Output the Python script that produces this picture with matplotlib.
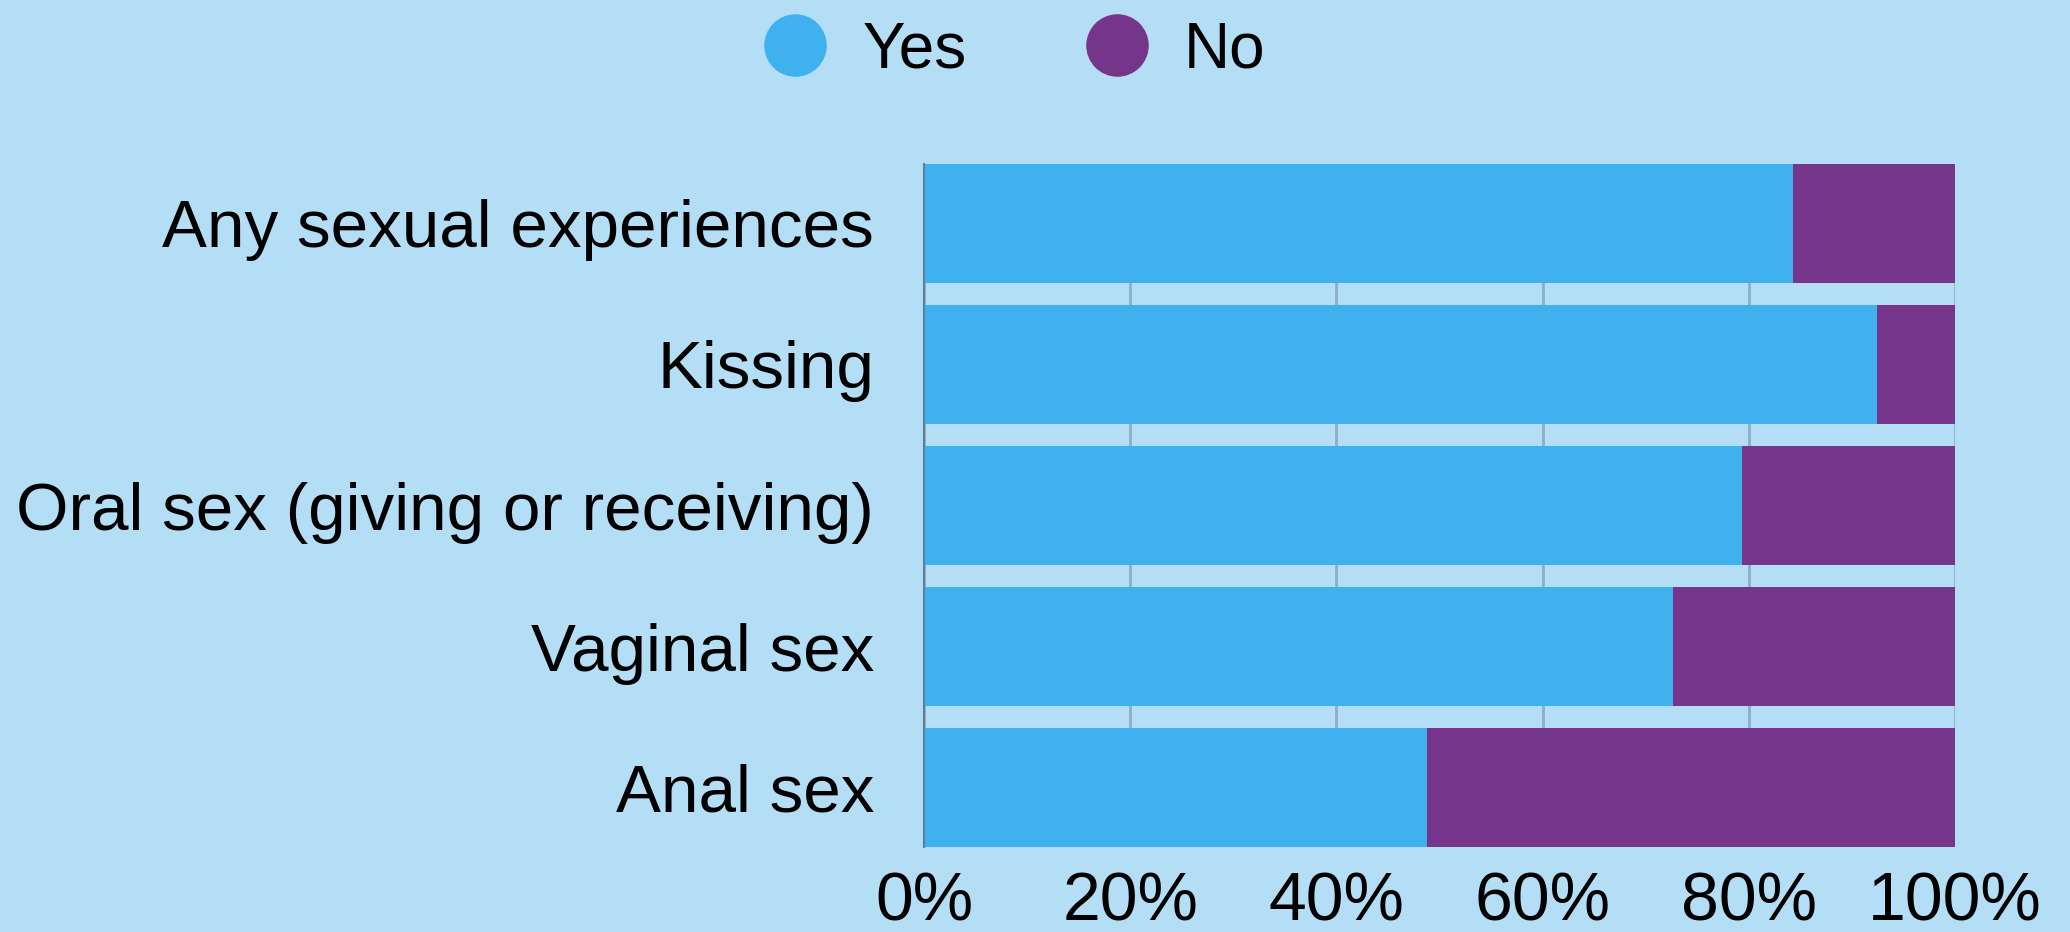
import matplotlib.pyplot as plt
from matplotlib.lines import Line2D
import numpy as np

categories = ['Any sexual experiences', 'Kissing', 'Oral sex (giving or receiving)',
              'Vaginal sex', 'Anal sex']
yes_pct = [84.3, 92.4, 79.3, 72.6, 48.8]
no_pct = [100 - v for v in yes_pct]
tick_vals = [0, 20, 40, 60, 80, 100]
tick_labels = ['0%', '20%', '40%', '60%', '80%', '100%']

bg = '#b4def5'
c_yes = '#40b1ef'
c_no = '#75358a'

plt.rcParams['font.family'] = ['Liberation Sans', 'DejaVu Sans']

fig = plt.figure(figsize=(20.7, 9.32), dpi=100, facecolor=bg)
ax = fig.add_axes([924 / 2070, 1 - 847 / 932, 1031 / 2070, 683 / 932])
ax.set_facecolor(bg)

y = np.arange(len(categories))
ax.barh(y, yes_pct, height=0.84, color=c_yes, zorder=2)
ax.barh(y, no_pct, left=yes_pct, height=0.84, color=c_no, zorder=2)

ax.set_xlim(0, 100)
ax.set_ylim(len(categories) - 0.58, -0.42)
ax.set_xticks(tick_vals)
ax.set_xticklabels(tick_labels, fontsize=49)
ax.set_yticks(y)
ax.set_yticklabels(categories, fontsize=48.5)
ax.tick_params(axis='x', length=0, pad=17)
ax.tick_params(axis='y', length=0, pad=36)
ax.xaxis.grid(True, color='#8eaec6', linewidth=2, zorder=1)
for s in ['top', 'right', 'bottom']:
    ax.spines[s].set_visible(False)
ax.spines['left'].set_color('#5f7f95')
ax.spines['left'].set_linewidth(1.5)
ax.spines['left'].set_zorder(3)

handles = [Line2D([], [], marker='o', linestyle='', markersize=44, color=c_yes),
           Line2D([], [], marker='o', linestyle='', markersize=44, color=c_no)]
fig.legend(handles, ['Yes', 'No'], loc='center', bbox_to_anchor=(0.49, 1 - 50 / 932),
           ncol=2, frameon=False, fontsize=46, handletextpad=0.55, columnspacing=1.85,
           handlelength=1.0)

plt.savefig('out.png', dpi=100, facecolor=bg)
